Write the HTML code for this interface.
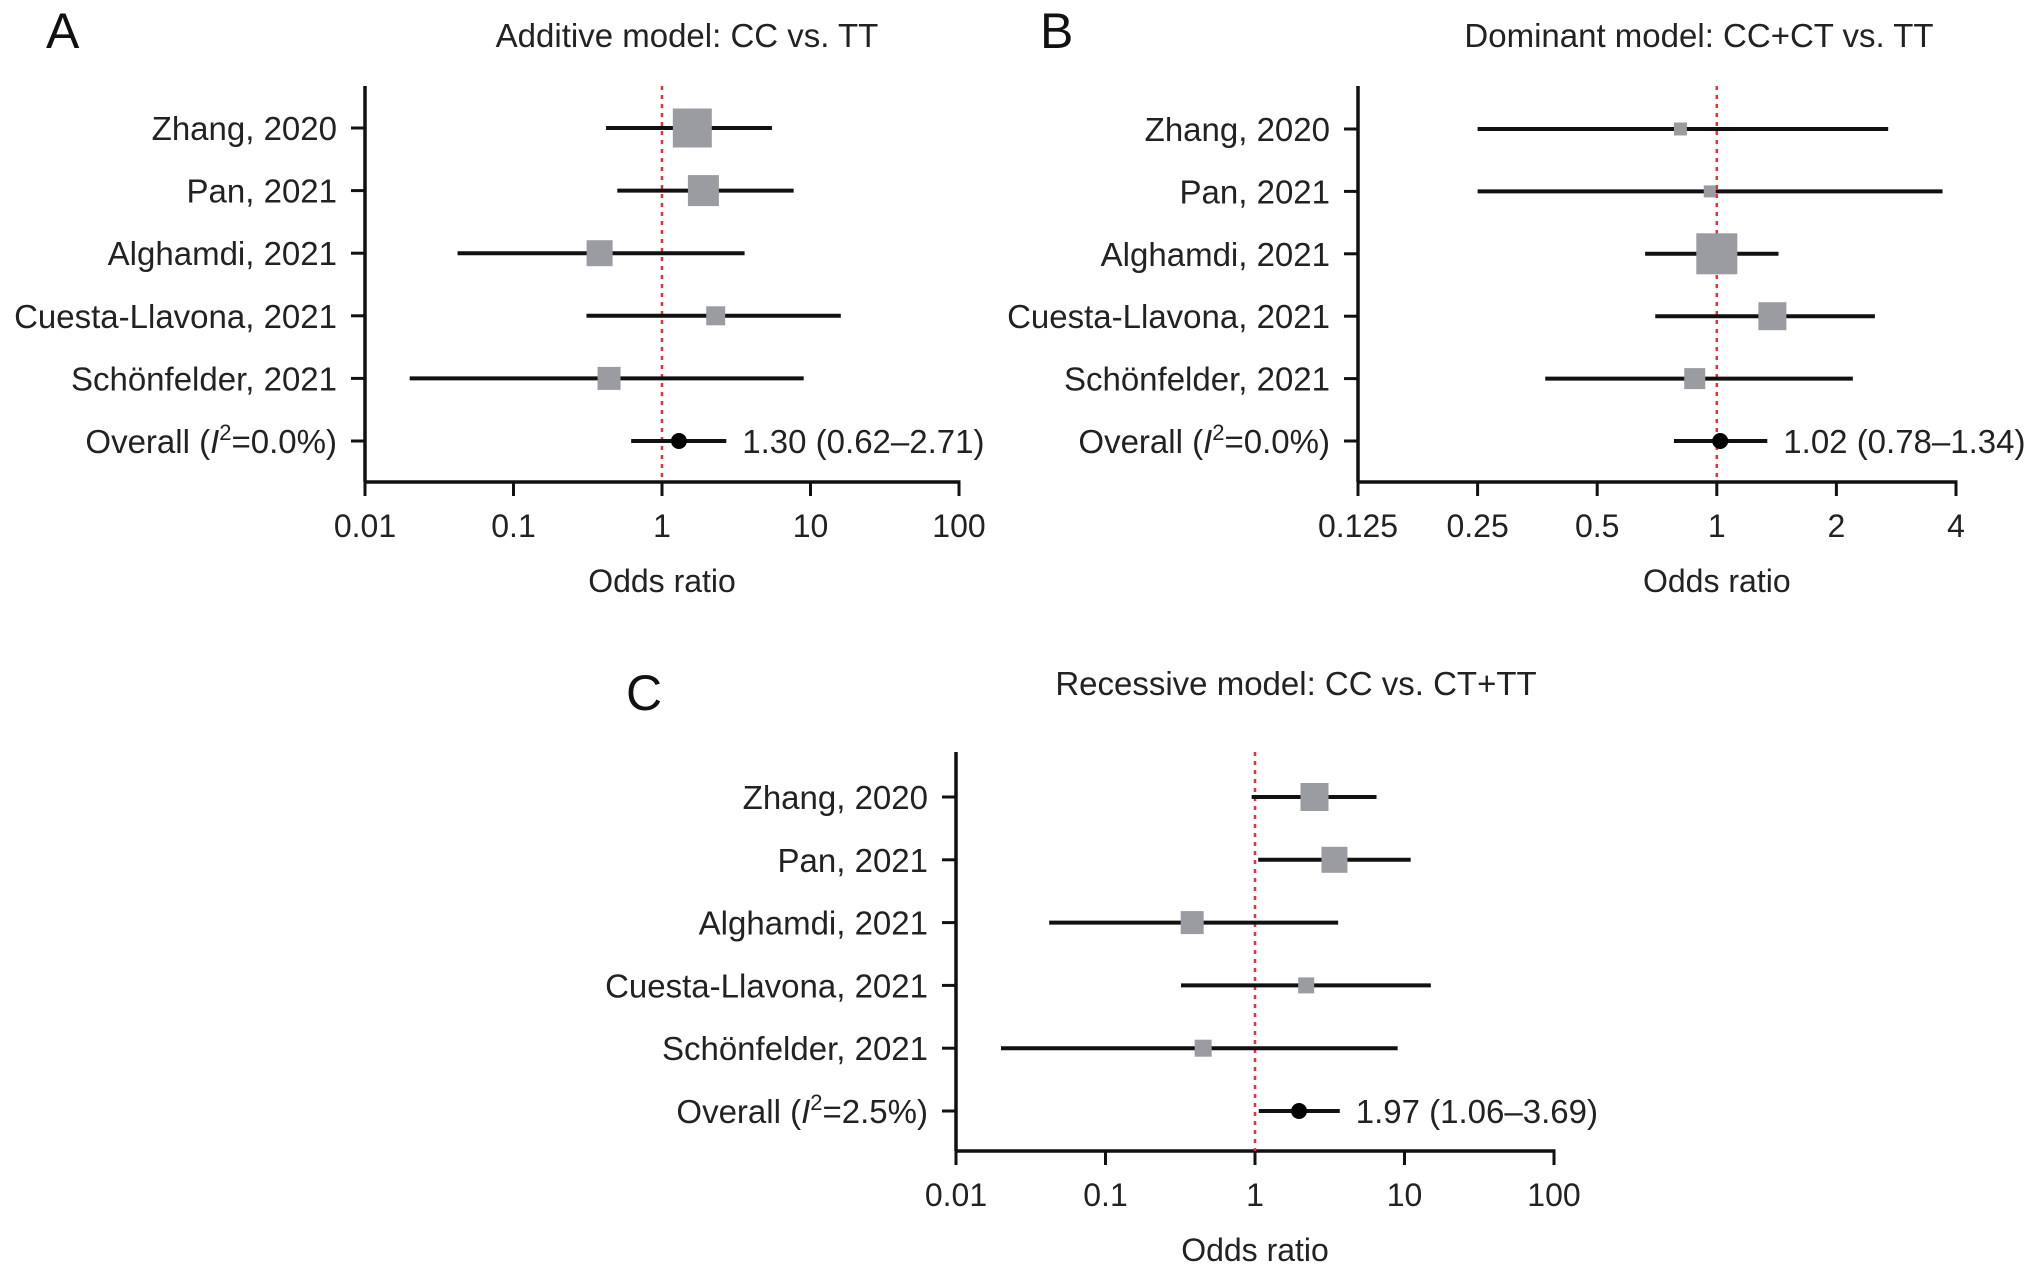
<!DOCTYPE html>
<html><head><meta charset="utf-8"><style>
html,body{margin:0;padding:0;background:#fff}
svg{display:block;font-family:"Liberation Sans",Arial,sans-serif}
</style></head><body>
<svg id="fig" width="2032" height="1272" viewBox="0 0 2032 1272"></svg>
<script>
const studies = ["Zhang, 2020","Pan, 2021","Alghamdi, 2021","Cuesta-Llavona, 2021","Schönfelder, 2021"];
// Panel A
const aOR = [1.6, 1.9, 0.38, 2.3, 0.44];
const aLo = [0.42, 0.5, 0.042, 0.31, 0.02];
const aHi = [5.5, 7.7, 3.6, 16, 9];
const aW  = [39, 31, 26, 19, 23];
const aOverall = [1.30, 0.62, 2.71];
const aTicks = ["0.01","0.1","1","10","100"];
// Panel B
const bOR = [0.81, 0.96, 1.0, 1.38, 0.88];
const bLo = [0.25, 0.25, 0.66, 0.7, 0.37];
const bHi = [2.7, 3.7, 1.43, 2.5, 2.2];
const bW  = [13, 12, 41, 28, 21];
const bOverall = [1.02, 0.78, 1.34];
const bTicks = ["0.125","0.25","0.5","1","2","4"];
// Panel C
const cOR = [2.5, 3.4, 0.38, 2.2, 0.45];
const cLo = [0.95, 1.05, 0.042, 0.32, 0.02];
const cHi = [6.5, 11, 3.6, 15, 9];
const cW  = [28, 26, 23, 16, 17];
const cOverall = [1.97, 1.06, 3.69];
const cTicks = ["0.01","0.1","1","10","100"];

const NS="http://www.w3.org/2000/svg";
const svg=document.getElementById('fig');
function mk(tag,attrs,parent,text){const e=document.createElementNS(NS,tag);for(const k in attrs)e.setAttribute(k,attrs[k]);if(text!==undefined)e.textContent=text;(parent||svg).appendChild(e);return e;}

function panel(cfg){
  const g=mk('g',{});
  
  
  const {x0,x1,yTop,yAxis,rows,ticks,or,lo,hi,w,overall,i2}=cfg;
  const tv=ticks.map(Number);
  const lmin=Math.log(tv[0]), lmax=Math.log(tv[tv.length-1]);
  const X=v=>x0+(Math.log(v)-lmin)/(lmax-lmin)*(x1-x0);
  const Y=i=>rows[0]+i*(rows[1]-rows[0]);
  let t=mk('text',{x:cfg.letterX,y:cfg.letterY,'font-size':50,fill:'#111'},g,cfg.id.toUpperCase());
  
  t=mk('text',{x:cfg.titleX,y:cfg.titleY,'font-size':33,'text-anchor':'middle',fill:'#222'},g,cfg.title);
  
  let a=mk('line',{x1:x0,y1:yTop,x2:x0,y2:yAxis,stroke:'#111','stroke-width':3.5},g);
  
  a=mk('line',{x1:x0-1.5,y1:yAxis,x2:x1+1.5,y2:yAxis,stroke:'#111','stroke-width':3.5},g);
  
  ticks.forEach((lab,k)=>{
    const xx=X(tv[k]);
    const tk=mk('line',{x1:xx,y1:yAxis,x2:xx,y2:yAxis+14,stroke:'#111','stroke-width':3},g);
    
    const tl=mk('text',{x:xx,y:yAxis+55,'font-size':32,'text-anchor':'middle',fill:'#222'},g,lab);
    
  });
  t=mk('text',{x:X(1),y:yAxis+110,'font-size':32,'text-anchor':'middle',fill:'#222'},g,'Odds ratio');
  
  const rl=mk('line',{x1:X(1),y1:yTop,x2:X(1),y2:yAxis,stroke:'#e8303a','stroke-width':2.5,'stroke-dasharray':'4 5'},g);
  
  const labels=studies.concat(['OVERALL']);
  labels.forEach((s,i)=>{
    const yy=Y(i);
    const tk=mk('line',{x1:x0-14,y1:yy,x2:x0,y2:yy,stroke:'#111','stroke-width':3},g);
    
    const tl=mk('text',{x:x0-28,y:yy+12,'font-size':33,'text-anchor':'end',fill:'#222'},g);
    
    if(s==='OVERALL'){
      tl.appendChild(document.createTextNode('Overall ('));
      mk('tspan',{'font-style':'italic'},tl,'I');
      mk('tspan',{'font-size':22,dy:-13},tl,'2');
      mk('tspan',{dy:13},tl,'='+i2+')');
    } else tl.textContent=s;
  });
  or.forEach((v,i)=>{
    const yy=Y(i);
    const ci=mk('line',{x1:X(lo[i]),y1:yy,x2:X(hi[i]),y2:yy,stroke:'#111','stroke-width':4},g);
    
    const b=mk('rect',{x:X(v)-w[i]/2,y:yy-w[i]/2,width:w[i],height:w[i],fill:'#9b9ca1'},g);
    
  });
  const yo=Y(5);
  const oc=mk('line',{x1:X(overall[1]),y1:yo,x2:X(overall[2]),y2:yo,stroke:'#111','stroke-width':4},g);
  
  const od=mk('circle',{cx:X(overall[0]),cy:yo,r:8,fill:'#000'},g);
  
  const ol=mk('text',{x:X(overall[2])+16,y:yo+12,'font-size':33,fill:'#222'},g,
    overall[0].toFixed(2)+' ('+overall[1].toFixed(2)+'–'+overall[2].toFixed(2)+')');
  
}
panel({id:'a',x0:365,x1:959,yTop:86,yAxis:482,rows:[128,190.6],ticks:aTicks,or:aOR,lo:aLo,hi:aHi,w:aW,overall:aOverall,i2:'0.0%',
  letterX:46,letterY:48,titleX:687,titleY:47,title:'Additive model: CC vs. TT'});
panel({id:'b',x0:1358,x1:1956,yTop:86,yAxis:482,rows:[129,191.4],ticks:bTicks,or:bOR,lo:bLo,hi:bHi,w:bW,overall:bOverall,i2:'0.0%',
  letterX:1040,letterY:48,titleX:1699,titleY:47,title:'Dominant model: CC+CT vs. TT'});
panel({id:'c',x0:956,x1:1554,yTop:752,yAxis:1151,rows:[797,859.8],ticks:cTicks,or:cOR,lo:cLo,hi:cHi,w:cW,overall:cOverall,i2:'2.5%',
  letterX:626,letterY:710,titleX:1296,titleY:695,title:'Recessive model: CC vs.  CT+TT'});
</script>
</body></html>
